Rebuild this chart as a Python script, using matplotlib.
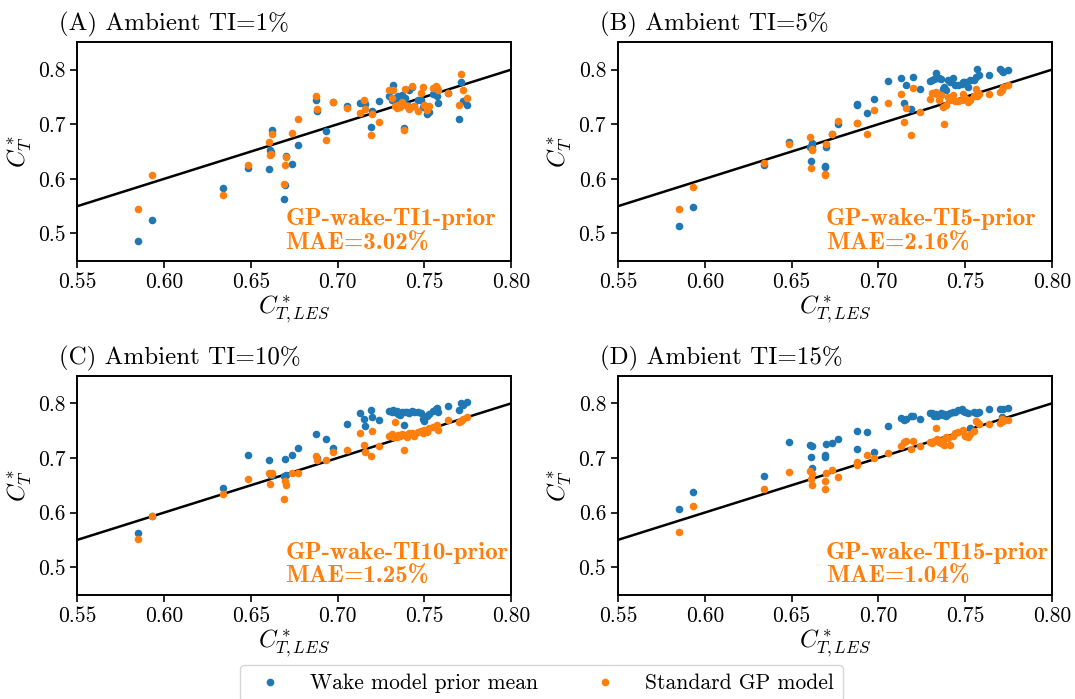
import matplotlib
matplotlib.use("Agg")
import matplotlib.pyplot as plt
from matplotlib.lines import Line2D

plt.rcParams['font.family'] = 'serif'
plt.rcParams['font.serif'] = ['cmr10']
plt.rcParams['mathtext.fontset'] = 'cm'
plt.rcParams['axes.unicode_minus'] = False
plt.rcParams['axes.formatter.use_mathtext'] = True

# LES reference thrust coefficients (shared x values)
ct_les = [0.585, 0.593, 0.634, 0.6485, 0.6605, 0.661, 0.6615, 0.662, 0.669, 0.6695,
          0.670, 0.6735, 0.677, 0.6875, 0.6878, 0.6935, 0.6975, 0.7055, 0.713, 0.715,
          0.716, 0.719, 0.720, 0.724, 0.7295, 0.731, 0.732, 0.733, 0.734, 0.735,
          0.736, 0.737, 0.738, 0.739, 0.740, 0.741, 0.743, 0.744, 0.746, 0.748,
          0.749, 0.750, 0.7515, 0.7525, 0.755, 0.7565, 0.757, 0.758, 0.7635, 0.770,
          0.771, 0.772, 0.7745]

# Panel A: TI = 1%
wake_ti1 = [0.487, 0.525, 0.583, 0.619, 0.618, 0.652, 0.649, 0.690, 0.564, 0.588,
            0.641, 0.628, 0.662, 0.745, 0.724, 0.687, 0.740, 0.734, 0.739, 0.742,
            0.737, 0.695, 0.724, 0.742, 0.751, 0.745, 0.772, 0.748, 0.745, 0.751,
            0.748, 0.753, 0.693, 0.748, 0.736, 0.763, 0.768, 0.733, 0.744, 0.745,
            0.731, 0.736, 0.719, 0.723, 0.755, 0.760, 0.751, 0.739, 0.758, 0.709,
            0.777, 0.743, 0.735]
gp_ti1 = [0.544, 0.607, 0.571, 0.625, 0.668, 0.644, 0.646, 0.682, 0.591, 0.626,
          0.640, 0.684, 0.710, 0.751, 0.728, 0.671, 0.740, 0.730, 0.720, 0.745,
          0.728, 0.680, 0.719, 0.705, 0.762, 0.748, 0.762, 0.733, 0.730, 0.735,
          0.732, 0.740, 0.690, 0.765, 0.733, 0.727, 0.770, 0.733, 0.724, 0.757,
          0.769, 0.735, 0.726, 0.733, 0.766, 0.770, 0.766, 0.763, 0.758, 0.736,
          0.792, 0.762, 0.748]

# Panel B: TI = 5%
wake_ti5 = [0.513, 0.549, 0.625, 0.668, 0.659, 0.633, 0.660, 0.665, 0.623, 0.622,
            0.658, 0.682, 0.700, 0.737, 0.735, 0.720, 0.747, 0.779, 0.784, 0.738,
            0.771, 0.727, 0.787, 0.765, 0.779, 0.781, 0.783, 0.793, 0.785, 0.784,
            0.782, 0.765, 0.768, 0.763, 0.781, 0.778, 0.785, 0.772, 0.772, 0.773,
            0.777, 0.778, 0.768, 0.781, 0.781, 0.787, 0.802, 0.791, 0.791, 0.802,
            0.798, 0.796, 0.799]
gp_ti5 = [0.545, 0.586, 0.629, 0.663, 0.676, 0.620, 0.655, 0.653, 0.607, 0.609,
          0.664, 0.682, 0.706, 0.703, 0.703, 0.683, 0.726, 0.739, 0.755, 0.705,
          0.730, 0.680, 0.767, 0.722, 0.747, 0.757, 0.758, 0.759, 0.755, 0.745,
          0.753, 0.732, 0.700, 0.735, 0.750, 0.745, 0.753, 0.742, 0.743, 0.745,
          0.755, 0.748, 0.740, 0.744, 0.752, 0.764, 0.752, 0.755, 0.756, 0.759,
          0.762, 0.768, 0.771]

# Panel C: TI = 10%
wake_ti10 = [0.562, 0.594, 0.645, 0.705, 0.696, 0.671, 0.668, 0.668, 0.667, 0.698,
             0.668, 0.706, 0.719, 0.743, 0.700, 0.734, 0.718, 0.763, 0.783, 0.771,
             0.759, 0.787, 0.775, 0.770, 0.786, 0.785, 0.787, 0.784, 0.786, 0.780,
             0.778, 0.785, 0.760, 0.784, 0.785, 0.783, 0.786, 0.784, 0.784, 0.782,
             0.771, 0.767, 0.777, 0.780, 0.786, 0.790, 0.792, 0.784, 0.795, 0.788,
             0.801, 0.797, 0.803]
gp_ti10 = [0.552, 0.594, 0.634, 0.661, 0.673, 0.653, 0.670, 0.673, 0.624, 0.657,
           0.650, 0.673, 0.672, 0.704, 0.696, 0.696, 0.711, 0.715, 0.745, 0.723,
           0.711, 0.704, 0.749, 0.722, 0.740, 0.743, 0.738, 0.766, 0.738, 0.742,
           0.740, 0.744, 0.715, 0.742, 0.738, 0.745, 0.746, 0.740, 0.748, 0.750,
           0.745, 0.752, 0.748, 0.755, 0.756, 0.758, 0.760, 0.752, 0.770, 0.765,
           0.768, 0.772, 0.775]

# Panel D: TI = 15%
wake_ti15 = [0.607, 0.637, 0.667, 0.730, 0.724, 0.702, 0.722, 0.682, 0.705, 0.701,
             0.725, 0.728, 0.735, 0.716, 0.749, 0.748, 0.710, 0.759, 0.774, 0.770,
             0.771, 0.777, 0.777, 0.771, 0.782, 0.783, 0.777, 0.780, 0.776, 0.779,
             0.782, 0.778, 0.780, 0.777, 0.781, 0.783, 0.785, 0.784, 0.788, 0.790,
             0.786, 0.784, 0.782, 0.755, 0.785, 0.783, 0.783, 0.784, 0.789, 0.790,
             0.775, 0.789, 0.792]
gp_ti15 = [0.565, 0.612, 0.644, 0.674, 0.676, 0.661, 0.670, 0.651, 0.644, 0.658,
           0.672, 0.678, 0.666, 0.693, 0.687, 0.705, 0.699, 0.709, 0.721, 0.729,
           0.731, 0.716, 0.731, 0.722, 0.729, 0.727, 0.731, 0.754, 0.735, 0.730,
           0.728, 0.733, 0.723, 0.738, 0.736, 0.724, 0.740, 0.745, 0.748, 0.750,
           0.752, 0.740, 0.738, 0.744, 0.750, 0.767, 0.765, 0.762, 0.762, 0.764,
           0.771, 0.768, 0.770]

panel_titles = ["(A) Ambient TI=1%", "(B) Ambient TI=5%",
                "(C) Ambient TI=10%", "(D) Ambient TI=15%"]
model_names = ["GP-wake-TI1-prior", "GP-wake-TI5-prior",
               "GP-wake-TI10-prior", "GP-wake-TI15-prior"]
mae_values = ["3.02%", "2.16%", "1.25%", "1.04%"]
wake_series = [wake_ti1, wake_ti5, wake_ti10, wake_ti15]
gp_series = [gp_ti1, gp_ti5, gp_ti10, gp_ti15]
x_ticks = [0.55, 0.60, 0.65, 0.70, 0.75, 0.80]
y_ticks = [0.5, 0.6, 0.7, 0.8]
legend_labels = ["Wake model prior mean", "Standard GP model"]

BLUE = "#1f77b4"
ORANGE = "#ff7f0e"

fig = plt.figure(figsize=(10.75, 6.99), dpi=100)
W, H = 1075, 699
lefts = [77.3, 618, 77.3, 618]
tops = [42.3, 42.3, 376, 376]
aw, ah = 434, 218.5

for i in range(4):
    ax = fig.add_axes([lefts[i] / W, 1 - (tops[i] + ah) / H, aw / W, ah / H])
    ax.plot([0.55, 0.80], [0.55, 0.80], color="black", lw=1.8, zorder=1)
    ax.scatter(ct_les, wake_series[i], s=30, color=BLUE, zorder=2, linewidths=0)
    ax.scatter(ct_les, gp_series[i], s=30, color=ORANGE, zorder=3, linewidths=0)
    ax.set_xlim(0.55, 0.80)
    ax.set_ylim(0.45, 0.85)
    ax.set_xticks(x_ticks)
    ax.set_xticklabels([f"{v:.2f}" for v in x_ticks])
    ax.set_yticks(y_ticks)
    ax.set_yticklabels([f"{v:.1f}" for v in y_ticks])
    ax.tick_params(labelsize=15.5, direction="out", length=5, width=1.2)
    for sp in ax.spines.values():
        sp.set_linewidth(1.4)
    ax.set_xlabel(r"$C^*_{T,LES}$", fontsize=17.5, labelpad=1)
    ax.set_ylabel(r"$C^*_T$", fontsize=17.5, labelpad=3)
    ax.text(-0.0415, 1.053, panel_titles[i], transform=ax.transAxes,
            fontsize=18, ha="left", va="baseline")
    ax.text(0.479, 0.028, model_names[i] + "\nMAE=" + mae_values[i],
            transform=ax.transAxes, color=ORANGE, family="cmb10",
            fontsize=18, ha="left", va="bottom", linespacing=1.15)

handles = [Line2D([], [], marker="o", ls="", color=BLUE, markersize=4.5),
           Line2D([], [], marker="o", ls="", color=ORANGE, markersize=4.5)]
fig.legend(handles, legend_labels, loc="upper center", ncol=2,
           bbox_to_anchor=(541.5 / W, 1 - 665 / H), fontsize=15.5, frameon=True,
           columnspacing=2.1, handletextpad=0.86, fancybox=True,
           edgecolor="#cccccc", borderaxespad=0)

fig.savefig("out.png", dpi=100)
